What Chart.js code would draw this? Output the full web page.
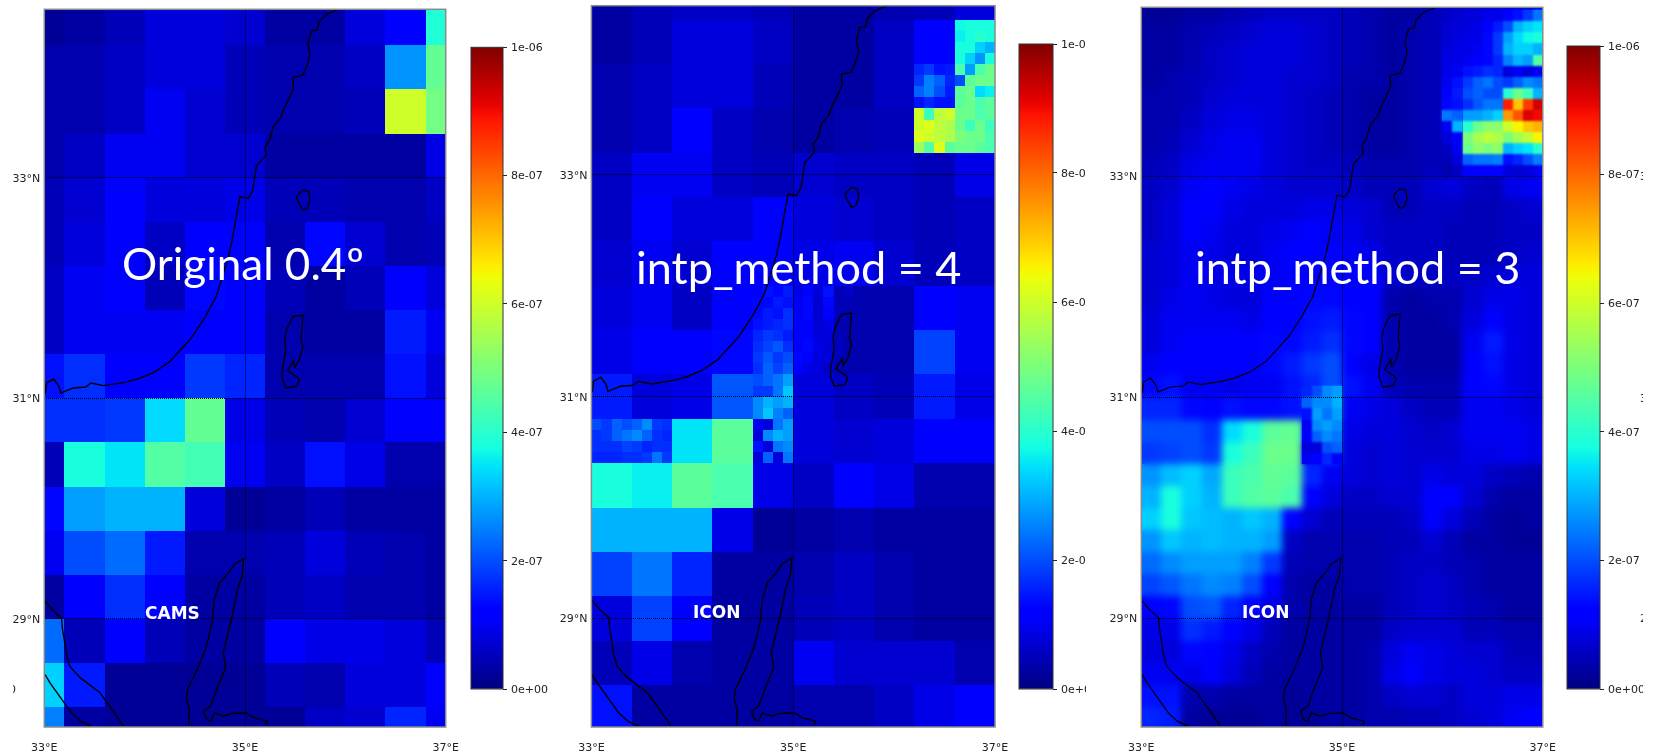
<!DOCTYPE html>
<html>
<head>
<meta charset="utf-8">
<title>CAMS vs ICON</title>
<script src="https://cdn.jsdelivr.net/npm/chart.js@4"></script>
<style>
    html, body { margin: 0; padding: 0; background: #fff; }
    body { position: relative; width: 1654px; height: 754px; overflow: hidden; }
    canvas { position: absolute; top: 0; }
    .big { position: absolute; color: #fff; font: 45px/54px Lato, sans-serif; white-space: nowrap; }
    .tag { position: absolute; color: #fff; font: bold 17px/20px "DejaVu Sans", sans-serif; white-space: nowrap; }
    .sliver { position: absolute; color: #222; font: 11px/14px "DejaVu Sans", sans-serif; overflow: hidden; width: 3px; height: 14px; }
</style>
</head>
<body>
<canvas id="map1" width="465" height="754" style="left:0"></canvas>
<canvas id="bar1" width="90" height="754" style="left:465px"></canvas>
<canvas id="map2" width="461" height="754" style="left:552px"></canvas>
<canvas id="bar2" width="73" height="754" style="left:1013px"></canvas>
<canvas id="map3" width="461" height="754" style="left:1100px"></canvas>
<canvas id="bar3" width="82" height="754" style="left:1561px"></canvas>

<div class="big" style="left:122px;top:236px;font-size:44px">Original 0.4º</div>
<div class="big" style="left:636px;top:240px">intp_method = 4</div>
<div class="big" style="left:1195px;top:240px">intp_method = 3</div>
<div class="tag" style="left:145px;top:603px">CAMS</div>
<div class="tag" style="left:693px;top:602px">ICON</div>
<div class="tag" style="left:1242px;top:602px">ICON</div>

<div class="sliver" style="left:13px;top:683px;text-indent:-4px">0</div>
<div class="sliver" style="left:1640px;top:170px">3</div>
<div class="sliver" style="left:1640px;top:392px">3</div>
<div class="sliver" style="left:1640px;top:612px">2</div>

<script>
// Axis ticks
const lonTicks = [33, 35, 37];
const latTicks = [29, 31, 33];
const colorbarTicks = [0, 2e-7, 4e-7, 6e-7, 8e-7, 1e-6];
const colorbarLabels = ['0e+00', '2e-07', '4e-07', '6e-07', '8e-07', '1e-06'];

// Values below are in units of 1e-8, the colorbar runs from 0 to 100
// Original CAMS grid, 0.4 degrees
const camsLons = [33, 33.4, 33.8, 34.2, 34.6, 35, 35.4, 35.8, 36.2, 36.6, 37];
const camsLats = [34.4, 34, 33.6, 33.2, 32.8, 32.4, 32, 31.6, 31.2, 30.8, 30.4, 30, 29.6, 29.2, 28.8, 28.4, 28];
const camsValues = [
    [2, 3, 5, 8, 8, 7, 3, 3, 8, 11, 39],
    [4, 4, 6, 8, 8, 5, 4, 4, 6, 27, 47],
    [4, 4, 6, 10, 7, 5, 4, 4, 5, 60, 49],
    [4, 6, 10, 10, 7, 7, 3, 3, 3, 3, 9],
    [5, 7, 11, 8, 8, 9, 5, 5, 4, 4, 6],
    [5, 8, 11, 6, 11, 11, 4, 13, 7, 4, 5],
    [6, 10, 11, 5, 13, 12, 5, 3, 5, 11, 8],
    [6, 10, 10, 10, 12, 11, 4, 3, 3, 15, 10],
    [14, 17, 11, 11, 18, 16, 4, 4, 4, 14, 8],
    [17, 17, 18, 34, 47, 9, 5, 4, 7, 11, 12],
    [5, 38, 35, 45, 43, 10, 6, 14, 9, 4, 4],
    [13, 28, 30, 30, 8, 2, 3, 5, 3, 3, 3],
    [10, 20, 23, 15, 4, 4, 5, 8, 5, 4, 3],
    [3, 11, 17, 11, 3, 3, 5, 6, 4, 4, 3],
    [23, 5, 11, 5, 3, 3, 11, 9, 9, 8, 5],
    [33, 15, 2, 2, 2, 2, 5, 4, 8, 8, 11],
    [25, 3, 2, 2, 2, 2, 2, 6, 7, 16, 10]
];

// ICON, intp_method = 4: coarse blocks
const icon4Lons = [33.2, 33.6, 34, 34.4, 34.8, 35.2, 35.6, 36, 36.4, 36.8];
const icon4Lats = [34.6, 34.2, 33.8, 33.4, 33, 32.6, 32.2, 31.8, 31.4, 31, 30.6, 30.2, 29.8, 29.4, 29, 28.6, 28.2];
const icon4Values = [
    [3, 5, 6, 6, 5, 3, 3, 4, 5, 8],
    [3, 5, 8, 8, 6, 3, 3, 6, 11, 37],
    [4, 6, 8, 8, 5, 3, 3, 6, 22, 44],
    [4, 6, 11, 6, 4, 3, 4, 5, 60, 48],
    [6, 10, 10, 6, 5, 7, 6, 6, 5, 9],
    [6, 11, 8, 8, 11, 8, 7, 6, 5, 6],
    [7, 10, 7, 12, 11, 9, 10, 7, 5, 6],
    [8, 10, 6, 12, 13, 11, 4, 4, 11, 10],
    [9, 11, 11, 13, 17, 10, 4, 4, 19, 10],
    [15, 8, 9, 21, 20, 8, 6, 5, 15, 9],
    [17, 18, 35, 46, 20, 8, 7, 8, 11, 11],
    [38, 36, 46, 44, 9, 6, 11, 9, 4, 4],
    [30, 30, 30, 9, 2, 3, 4, 3, 3, 3],
    [19, 24, 16, 3, 3, 4, 6, 4, 3, 3],
    [8, 19, 11, 3, 3, 5, 6, 4, 3, 3],
    [5, 9, 4, 3, 3, 10, 7, 7, 7, 4],
    [14, 3, 3, 3, 3, 4, 4, 6, 9, 11]
];

// intp_method = 4: finer patch in the north east corner
const icon4NeLons = [36.25, 36.35, 36.45, 36.55, 36.65, 36.75, 36.85, 36.95];
const icon4NeLats = [34.35, 34.25, 34.15, 34.05, 33.95, 33.85, 33.75, 33.65, 33.55, 33.45, 33.35, 33.25];
const icon4NeValues = [
    [11, 11, 11, 11, 37, 38, 38, 38],
    [11, 11, 11, 11, 36, 38, 40, 38],
    [11, 11, 11, 11, 38, 38, 33, 30],
    [11, 11, 11, 11, 38, 33, 27, 38],
    [16, 18, 14, 15, 44, 28, 44, 48],
    [18, 25, 22, 16, 20, 46, 48, 48],
    [22, 25, 20, 15, 46, 48, 34, 36],
    [14, 16, 14, 14, 46, 48, 44, 46],
    [60, 42, 58, 60, 48, 48, 44, 46],
    [60, 62, 58, 56, 48, 42, 48, 42],
    [62, 60, 58, 56, 50, 48, 48, 44],
    [54, 45, 62, 46, 48, 48, 46, 44]
];

// intp_method = 4: speckled patch north of the dunes
const icon4SpotLons = [34.65, 34.75, 34.85, 34.95];
const icon4SpotLats = [31.15, 31.05, 30.95, 30.85, 30.75, 30.65, 30.55, 30.45];
const icon4SpotValues = [
    [20, 22, 24, 28],
    [18, 18, 24, 32],
    [26, 30, 28, 30],
    [26, 32, 25, 22],
    [10, 8, 24, 28],
    [8, 26, 30, 28],
    [14, 8, 24, 26],
    [8, 22, 8, 24]
];

// intp_method = 4: speckled patch on the north west side
const icon4WestLons = [33.05, 33.15, 33.25, 33.35, 33.45, 33.55, 33.65, 33.75];
const icon4WestLats = [30.75, 30.65, 30.55, 30.45];
const icon4WestValues = [
    [20, 18, 22, 20, 22, 26, 18, 17],
    [17, 18, 22, 24, 26, 22, 17, 16],
    [17, 17, 17, 19, 18, 16, 17, 17],
    [16, 16, 16, 17, 17, 18, 24, 18]
];

// intp_method = 4: speckles along the coast south of Tel Aviv
const icon4CoastLons = [34.65, 34.75, 34.85, 34.95, 35.05, 35.15, 35.25, 35.35, 35.45, 35.55];
const icon4CoastLats = [31.95, 31.85, 31.75, 31.65, 31.55, 31.45, 31.35, 31.25];
const icon4CoastValues = [
    [12, 14, 13, 15, 9, 12, 8, 14, 5, 6],
    [13, 13, 15, 14, 10, 13, 7, 13, 5, 5],
    [13, 15, 14, 17, 10, 13, 7, 11, 5, 4],
    [14, 15, 16, 17, 11, 12, 7, 9, 4, 4],
    [16, 18, 17, 15, 12, 11, 8, 8, 5, 4],
    [17, 19, 21, 17, 11, 13, 9, 7, 6, 4],
    [18, 21, 18, 20, 13, 12, 8, 8, 5, 4],
    [17, 22, 19, 22, 12, 9, 8, 6, 4, 4]
];

// ICON, intp_method = 3: smooth field at 0.2 degrees
const icon3Lons = [33.1, 33.3, 33.5, 33.7, 33.9, 34.1, 34.3, 34.5, 34.7, 34.9, 35.1, 35.3, 35.5, 35.7, 35.9, 36.1, 36.3, 36.5, 36.7, 36.9];
const icon3Lats = [34.5, 34.3, 34.1, 33.9, 33.7, 33.5, 33.3, 33.1, 32.9, 32.7, 32.5, 32.3, 32.1, 31.9, 31.7, 31.5, 31.3, 31.1, 30.9, 30.7, 30.5, 30.3, 30.1, 29.9, 29.7, 29.5, 29.3, 29.1, 28.9, 28.7, 28.5, 28.3, 28.1];
const icon3Values = [
    [2, 2, 3, 3, 4, 5, 6, 6, 6, 6, 5, 4, 3, 3, 5, 6, 7, 8, 9, 9],
    [3, 3, 4, 5, 6, 7, 8, 8, 7, 6, 5, 4, 3, 4, 5, 6, 7, 8, 9, 9],
    [3, 3, 4, 6, 7, 8, 8, 8, 7, 6, 5, 4, 3, 4, 5, 6, 7, 8, 9, 9],
    [3, 4, 5, 6, 7, 8, 8, 7, 7, 6, 4, 4, 3, 4, 5, 6, 7, 8, 9, 9],
    [4, 4, 5, 7, 8, 8, 8, 7, 6, 5, 4, 3, 3, 4, 5, 6, 7, 8, 9, 9],
    [4, 4, 6, 8, 9, 9, 8, 7, 6, 5, 4, 3, 3, 4, 5, 7, 8, 9, 10, 10],
    [4, 5, 7, 9, 10, 10, 8, 7, 6, 5, 4, 3, 3, 4, 5, 6, 7, 8, 12, 12],
    [5, 6, 9, 10, 10, 10, 8, 7, 6, 6, 5, 4, 4, 4, 5, 5, 6, 6, 10, 10],
    [6, 7, 10, 11, 10, 9, 8, 7, 7, 7, 6, 5, 5, 5, 7, 8, 6, 5, 9, 10],
    [6, 8, 11, 11, 9, 8, 8, 8, 9, 9, 8, 7, 5, 5, 6, 6, 5, 5, 6, 7],
    [6, 8, 11, 10, 8, 8, 9, 10, 11, 10, 9, 7, 6, 6, 6, 5, 5, 5, 6, 6],
    [7, 8, 10, 9, 8, 8, 10, 11, 12, 11, 10, 9, 6, 6, 6, 5, 5, 5, 6, 7],
    [7, 8, 10, 9, 9, 9, 10, 12, 12, 12, 11, 11, 7, 6, 6, 6, 6, 7, 8, 8],
    [7, 9, 10, 9, 8, 8, 11, 12, 13, 13, 12, 11, 4, 3, 4, 4, 7, 9, 9, 8],
    [8, 10, 10, 10, 10, 9, 12, 12, 14, 15, 13, 11, 4, 3, 3, 4, 8, 11, 9, 8],
    [8, 10, 11, 11, 11, 11, 13, 13, 15, 17, 13, 11, 4, 3, 3, 3, 10, 15, 9, 8],
    [10, 11, 12, 12, 11, 11, 13, 15, 18, 20, 12, 9, 4, 3, 3, 3, 12, 14, 9, 8],
    [13, 14, 10, 10, 9, 10, 10, 14, 16, 20, 14, 10, 5, 4, 4, 4, 11, 13, 9, 8],
    [16, 16, 13, 12, 14, 13, 13, 14, 16, 22, 10, 9, 8, 6, 5, 5, 10, 10, 9, 8],
    [20, 20, 20, 17, 34, 38, 46, 47, 22, 18, 9, 8, 8, 7, 6, 7, 10, 10, 10, 9],
    [18, 19, 20, 18, 38, 42, 48, 48, 14, 17, 8, 7, 8, 7, 7, 7, 9, 9, 10, 9],
    [27, 31, 33, 29, 42, 44, 47, 46, 16, 10, 8, 7, 8, 7, 9, 8, 8, 6, 5, 4],
    [30, 38, 33, 30, 42, 45, 46, 44, 12, 8, 6, 6, 7, 7, 12, 11, 7, 4, 3, 3],
    [33, 38, 32, 31, 30, 32, 30, 12, 7, 5, 5, 5, 5, 6, 11, 8, 5, 3, 2, 3],
    [27, 32, 30, 31, 30, 30, 28, 6, 4, 4, 4, 4, 5, 5, 7, 5, 3, 3, 2, 2],
    [23, 26, 28, 28, 28, 25, 18, 5, 4, 4, 4, 4, 5, 6, 6, 5, 4, 3, 3, 3],
    [19, 21, 24, 26, 25, 20, 11, 4, 3, 3, 4, 4, 5, 6, 7, 6, 4, 3, 3, 3],
    [11, 13, 20, 21, 16, 12, 9, 4, 3, 3, 3, 3, 5, 6, 7, 6, 5, 4, 3, 3],
    [9, 9, 17, 15, 11, 9, 5, 3, 3, 3, 3, 3, 6, 7, 7, 7, 5, 5, 4, 4],
    [8, 8, 13, 12, 9, 6, 4, 3, 3, 3, 3, 4, 8, 10, 9, 8, 7, 7, 5, 5],
    [10, 10, 9, 11, 8, 5, 3, 3, 3, 3, 3, 4, 9, 11, 9, 8, 8, 7, 6, 6],
    [14, 14, 4, 4, 3, 3, 3, 2, 3, 3, 3, 4, 6, 7, 7, 6, 8, 8, 9, 9],
    [16, 15, 3, 2, 2, 2, 3, 2, 2, 3, 3, 4, 4, 5, 5, 6, 7, 8, 10, 11]
];

// intp_method = 3: north east corner with the maximum
const icon3NeLons = [36.05, 36.15, 36.25, 36.35, 36.45, 36.55, 36.65, 36.75, 36.85, 36.95];
const icon3NeLats = [34.45, 34.35, 34.25, 34.15, 34.05, 33.95, 33.85, 33.75, 33.65, 33.55, 33.45, 33.35, 33.25, 33.15, 33.05];
const icon3NeValues = [
    [6, 7, 8, 8, 9, 9, 11, 14, 18, 24],
    [7, 8, 8, 9, 11, 15, 20, 30, 33, 35],
    [7, 8, 9, 9, 13, 18, 28, 34, 37, 38],
    [8, 9, 9, 10, 13, 18, 30, 33, 33, 30],
    [9, 9, 10, 11, 13, 16, 25, 30, 28, 45],
    [9, 10, 14, 15, 17, 16, 8, 10, 8, 10],
    [10, 14, 18, 22, 24, 20, 18, 22, 26, 24],
    [12, 15, 20, 22, 20, 20, 40, 48, 42, 30],
    [13, 14, 17, 21, 24, 24, 88, 70, 85, 93],
    [24, 22, 28, 28, 30, 33, 75, 82, 92, 90],
    [10, 30, 40, 48, 52, 52, 60, 65, 70, 72],
    [8, 12, 50, 55, 58, 56, 50, 55, 58, 65],
    [6, 10, 48, 52, 50, 52, 30, 33, 35, 40],
    [5, 8, 22, 24, 24, 25, 14, 16, 20, 25],
    [4, 6, 12, 12, 12, 12, 8, 7, 8, 10]
];

// intp_method = 3: speckled patch north of the dunes
const icon3SpotLons = [34.65, 34.75, 34.85, 34.95];
const icon3SpotLats = [31.05, 30.95, 30.85, 30.75, 30.65, 30.55, 30.45];
const icon3SpotValues = [
    [16, 20, 26, 28],
    [22, 26, 26, 30],
    [14, 28, 24, 28],
    [10, 26, 28, 26],
    [12, 22, 26, 24],
    [8, 8, 20, 22],
    [10, 12, 16, 12]
];

// Coastlines as [lon, lat]
const medCoast = [[35.94, 34.53], [35.815, 34.483], [35.737, 34.414], [35.719, 34.338], [35.662, 34.332], [35.627, 34.217], [35.648, 34.112], [35.619, 34.021], [35.577, 33.93], [35.477, 33.909], [35.484, 33.81], [35.424, 33.689], [35.388, 33.628], [35.353, 33.538], [35.281, 33.462], [35.246, 33.341], [35.199, 33.281], [35.21, 33.205], [35.114, 33.109], [35.078, 32.888], [35.032, 32.813], [34.95, 32.828], [34.925, 32.707], [34.872, 32.435], [34.836, 32.284], [34.765, 32.073], [34.712, 31.921], [34.605, 31.74], [34.463, 31.544], [34.249, 31.332], [34.089, 31.233], [33.929, 31.175], [33.804, 31.145], [33.591, 31.115], [33.466, 31.139], [33.413, 31.103], [33.288, 31.094], [33.164, 31.048], [33.146, 31.109], [33.093, 31.175], [33.021, 31.139], [33.011, 31.048], [33, 31.048]];
const suezNorth = [[33.007, 29.16], [33.093, 29.07], [33.171, 29.009], [33.182, 28.903], [33.199, 28.813], [33.217, 28.692], [33.253, 28.571], [33.359, 28.465], [33.555, 28.33], [33.626, 28.239], [33.698, 28.148], [33.787, 28.033]];
const suezSouth = [[33.007, 28.496], [33.057, 28.42], [33.199, 28.239], [33.27, 28.148], [33.359, 28.073], [33.466, 28.03]];
const aqabaCoast = [[34.438, 28.033], [34.445, 28.178], [34.416, 28.269], [34.427, 28.36], [34.516, 28.526], [34.605, 28.722], [34.641, 28.843], [34.676, 28.994], [34.694, 29.175], [34.747, 29.326], [34.836, 29.417], [34.89, 29.492], [34.986, 29.547], [34.972, 29.387], [34.925, 29.266], [34.872, 29.024], [34.783, 28.692], [34.808, 28.556], [34.73, 28.39], [34.658, 28.209], [34.587, 28.163], [34.616, 28.088], [34.658, 28.073], [34.694, 28.148], [34.783, 28.118], [34.872, 28.142], [35.014, 28.148], [35.086, 28.103], [35.221, 28.073], [35.21, 28.042]];
const galilee = [[35.513, 32.828], [35.577, 32.888], [35.637, 32.873], [35.648, 32.798], [35.619, 32.722], [35.577, 32.707], [35.53, 32.782], [35.513, 32.828]];
const deadSea = [[35.477, 31.74], [35.577, 31.755], [35.559, 31.529], [35.577, 31.468], [35.541, 31.348], [35.495, 31.281], [35.484, 31.342], [35.424, 31.251], [35.53, 31.184], [35.541, 31.169], [35.513, 31.109], [35.406, 31.094], [35.37, 31.184], [35.37, 31.242], [35.406, 31.438], [35.395, 31.529], [35.413, 31.62], [35.459, 31.71], [35.477, 31.74]];
const coastlines = [medCoast, suezNorth, suezSouth, aqabaCoast, galilee, deadSea];

// matplotlib jet colormap
const jetRed = [[0, 0], [0.35, 0], [0.66, 1], [0.89, 1], [1, 0.5]];
const jetGreen = [[0, 0], [0.125, 0], [0.375, 1], [0.64, 1], [0.91, 0], [1, 0]];
const jetBlue = [[0, 0.5], [0.11, 1], [0.34, 1], [0.65, 0], [1, 0]];

function channel(stops, t) {
    for (let i = 1; i < stops.length; i++) {
        if (t <= stops[i][0]) {
            const a = stops[i - 1], b = stops[i];
            return Math.round(255 * (a[1] + (b[1] - a[1]) * (t - a[0]) / (b[0] - a[0])));
        }
    }
    return Math.round(255 * stops[stops.length - 1][1]);
}

function jet(t) {
    return `rgb(${channel(jetRed, t)},${channel(jetGreen, t)},${channel(jetBlue, t)})`;
}

// Turns a lons/lats/values table into a dataset the heatCells plugin can draw
function cellLayer(lons, lats, rows, size, blur) {
    const data = [];
    rows.forEach((row, j) => row.forEach((v, i) => data.push({ x: lons[i], y: lats[j], v })));
    return { data, cellSize: size, blur: blur || 0, pointRadius: 0, showLine: false };
}

function paintCells(ctx, chart, ds) {
    const sx = chart.scales.x, sy = chart.scales.y;
    const half = ds.cellSize / 2;
    ds.data.forEach(c => {
        const x0 = Math.round(sx.getPixelForValue(c.x - half));
        const x1 = Math.round(sx.getPixelForValue(c.x + half));
        const y0 = Math.round(sy.getPixelForValue(c.y + half));
        const y1 = Math.round(sy.getPixelForValue(c.y - half));
        ctx.fillStyle = jet(c.v / 100);
        ctx.fillRect(x0, y0, x1 - x0, y1 - y0);
    });
}

const heatCells = {
    id: 'heatCells',
    beforeDatasetsDraw(chart) {
        const ctx = chart.ctx, area = chart.chartArea;
        ctx.save();
        ctx.beginPath();
        ctx.rect(area.left, area.top, area.width, area.height);
        ctx.clip();
        chart.data.datasets.forEach(ds => {
            if (!ds.cellSize) return;
            paintCells(ctx, chart, ds);
            if (ds.blur) {
                // soft field for the smooth panel
                const off = document.createElement('canvas');
                off.width = chart.width;
                off.height = chart.height;
                paintCells(off.getContext('2d'), chart, ds);
                ctx.filter = `blur(${ds.blur}px)`;
                ctx.drawImage(off, 0, 0);
                ctx.filter = 'none';
            }
        });
        ctx.restore();
    },
    afterDraw(chart, args, opts) {
        const a = chart.chartArea;
        chart.ctx.save();
        chart.ctx.strokeStyle = opts.frame || '#8a8a8a';
        chart.ctx.lineWidth = opts.frameWidth || 1.5;
        chart.ctx.strokeRect(a.left, a.top, a.width, a.height);
        chart.ctx.restore();
    }
};

const tickFont = { family: '"DejaVu Sans"', size: 11 };

function createMap(id, plotLeft, plotRight, plotTop, layers, coastWidth) {
    const canvas = document.getElementById(id);
    const coasts = coastlines.map(line => ({
        data: line.map(p => ({ x: p[0], y: p[1] })),
        showLine: true,
        borderColor: '#000',
        borderWidth: coastWidth,
        pointRadius: 0,
        tension: 0
    }));
    return new Chart(canvas, {
        type: 'scatter',
        data: { datasets: layers.concat(coasts) },
        plugins: [heatCells],
        options: {
            responsive: false,
            animation: false,
            events: [],
            layout: { autoPadding: false, padding: { left: 0, right: canvas.width - plotRight, top: plotTop, bottom: 0 } },
            plugins: { legend: { display: false }, tooltip: { enabled: false } },
            scales: {
                x: {
                    type: 'linear', min: 33, max: 37,
                    afterBuildTicks: s => { s.ticks = lonTicks.map(value => ({ value })); },
                    afterFit: s => { s.height = 27; s.paddingLeft = 0; s.paddingRight = 0; },
                    ticks: { callback: v => v + '°E', font: tickFont, color: '#222', padding: 15, maxRotation: 0, autoSkip: false },
                    grid: { z: 1, drawTicks: false, lineWidth: 1, color: c => (c.tick.value === 35 ? '#000' : 'transparent') },
                    border: { display: false, dash: [1, 1] }
                },
                y: {
                    type: 'linear', min: 28.02, max: 34.527,
                    afterBuildTicks: s => { s.ticks = latTicks.map(value => ({ value })); },
                    afterFit: s => { s.width = plotLeft; s.paddingTop = 0; s.paddingBottom = 0; },
                    ticks: { callback: v => v + '°N', font: tickFont, color: '#222', padding: 4, autoSkip: false, labelOffset: 1 },
                    grid: { z: 1, drawTicks: false, lineWidth: 1, color: '#000' },
                    border: { display: false, dash: [1, 1] }
                }
            }
        }
    });
}

function createColorbar(id, barWidth, barTop) {
    const canvas = document.getElementById(id);
    return new Chart(canvas, {
        type: 'bar',
        data: {
            labels: ['colorbar'],
            datasets: [{
                data: [[colorbarTicks[0], colorbarTicks[colorbarTicks.length - 1]]],
                barPercentage: 1,
                categoryPercentage: 1,
                backgroundColor: c => {
                    const a = c.chart.chartArea;
                    if (!a) return '#000';
                    const g = c.chart.ctx.createLinearGradient(0, a.bottom, 0, a.top);
                    for (let i = 0; i <= 64; i++) g.addColorStop(i / 64, jet(i / 64));
                    return g;
                }
            }]
        },
        plugins: [heatCells],
        options: {
            responsive: false,
            animation: false,
            events: [],
            layout: { autoPadding: false, padding: { left: 6, right: 0, top: barTop, bottom: 65 } },
            plugins: { legend: { display: false }, tooltip: { enabled: false }, heatCells: { frame: '#333', frameWidth: 1 } },
            scales: {
                x: { display: false },
                y: {
                    position: 'right', min: 0, max: 1e-6,
                    afterBuildTicks: s => { s.ticks = colorbarTicks.map(value => ({ value })); },
                    afterFit: s => { s.width = canvas.width - 6 - barWidth; s.paddingTop = 0; s.paddingBottom = 0; },
                    ticks: { callback: (v, i) => colorbarLabels[i], font: tickFont, color: '#222', padding: 4, autoSkip: false, labelOffset: 1 },
                    grid: { drawOnChartArea: false, drawTicks: true, tickLength: 4, color: '#222' },
                    border: { display: false }
                }
            }
        }
    });
}

createMap('map1', 44.3, 445.7, 9.3, [cellLayer(camsLons, camsLats, camsValues, 0.4)], 1.4);

createMap('map2', 39.4, 443, 5.7, [
    cellLayer(icon4Lons, icon4Lats, icon4Values, 0.4),
    cellLayer(icon4NeLons, icon4NeLats, icon4NeValues, 0.1),
    cellLayer(icon4CoastLons, icon4CoastLats, icon4CoastValues, 0.1),
    cellLayer(icon4SpotLons, icon4SpotLats, icon4SpotValues, 0.1),
    cellLayer(icon4WestLons, icon4WestLats, icon4WestValues, 0.1)
], 1.4);

createMap('map3', 41.3, 442.8, 7.3, [
    cellLayer(icon3Lons, icon3Lats, icon3Values, 0.2, 3.5),
    cellLayer(icon3NeLons, icon3NeLats, icon3NeValues, 0.1, 1),
    cellLayer(icon3SpotLons, icon3SpotLats, icon3SpotValues, 0.1, 1)
], 1.2);

createColorbar('bar1', 32, 47.3);
createColorbar('bar2', 34, 44);
createColorbar('bar3', 33, 46);
</script>
</body>
</html>
